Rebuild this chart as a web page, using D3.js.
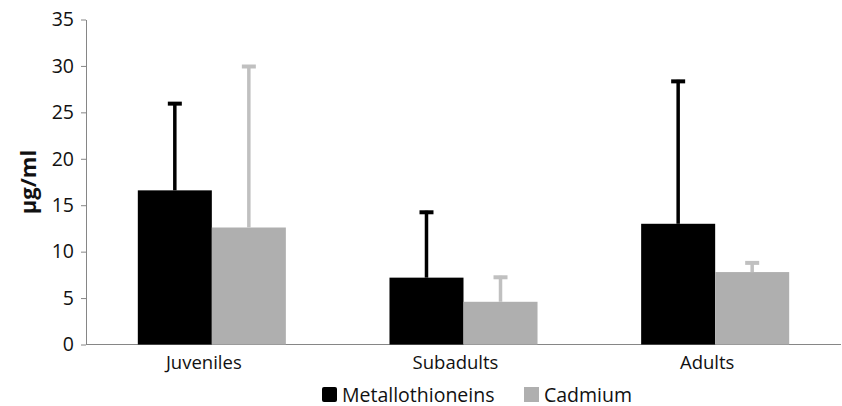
<!DOCTYPE html>
<html>
<head>
<meta charset="utf-8">
<script src="https://cdn.jsdelivr.net/npm/d3@7"></script>
<style>
  body { margin: 0; background: #fff; }
  svg text { font-family: "Open Sans", sans-serif; fill: #111; }
</style>
</head>
<body>
<div id="chart"></div>
<script>
// data
const categories = ["Juveniles", "Subadults", "Adults"]
const series_names = ["Metallothioneins", "Cadmium"]
const mt_values = [16.6, 7.2, 13.0]
const mt_errors = [9.5, 7.2, 15.5]
const cd_values = [12.6, 4.6, 7.8]
const cd_errors = [17.5, 2.8, 1.15]
const y_ticks = [0, 5, 10, 15, 20, 25, 30, 35]

const width = 842, height = 406
const plot_left = 86, plot_right = 841, plot_top = 19.5, plot_bottom = 344.5

const bar_colors = {"Metallothioneins": "#000000", "Cadmium": "#afafaf"}
const err_colors = {"Metallothioneins": "#000000", "Cadmium": "#c0c0c0"}

const rows = []
categories.forEach(function(c, i) {
  rows.push({cat: c, name: "Metallothioneins", value: mt_values[i], err: mt_errors[i]})
  rows.push({cat: c, name: "Cadmium", value: cd_values[i], err: cd_errors[i]})
})

const svg = d3.select("#chart").append("svg")
  .attr("width", width)
  .attr("height", height)

const x0 = d3.scaleBand().domain(categories).range([plot_left, plot_right]).padding(0)
const x1 = d3.scaleBand().domain(series_names).range([0, x0.bandwidth()])
  .paddingInner(0).paddingOuter(0.7)
const y = d3.scaleLinear().domain([0, 35]).range([plot_bottom, plot_top])

// y axis
const y_axis = svg.append("g")
  .attr("transform", "translate(" + plot_left + ",0)")
  .call(d3.axisLeft(y).tickValues(y_ticks).tickSize(5).tickSizeOuter(0).tickPadding(7))
y_axis.select(".domain").attr("stroke", "#868686")
y_axis.selectAll(".tick line").attr("stroke", "#868686")
y_axis.selectAll(".tick text")
  .style("font-size", "19.5px")
  .attr("fill", "#111")

// baseline
svg.append("line")
  .attr("x1", plot_left).attr("x2", plot_right)
  .attr("y1", y(0)).attr("y2", y(0))
  .attr("stroke", "#868686")

// bars
svg.selectAll("rect.bar")
  .data(rows)
  .join("rect")
  .attr("class", "bar")
  .attr("x", d => x0(d.cat) + x1(d.name))
  .attr("width", x1.bandwidth())
  .attr("y", d => y(d.value))
  .attr("height", d => y(0) - y(d.value))
  .attr("fill", d => bar_colors[d.name])

// error bars (upper only)
const err = svg.selectAll("g.err")
  .data(rows)
  .join("g")
  .attr("class", "err")
err.append("line")
  .attr("x1", d => x0(d.cat) + x1(d.name) + x1.bandwidth() / 2)
  .attr("x2", d => x0(d.cat) + x1(d.name) + x1.bandwidth() / 2)
  .attr("y1", d => y(d.value))
  .attr("y2", d => y(d.value + d.err))
  .attr("stroke", d => err_colors[d.name])
  .attr("stroke-width", 3.5)
err.append("line")
  .attr("x1", d => x0(d.cat) + x1(d.name) + x1.bandwidth() / 2 - 7)
  .attr("x2", d => x0(d.cat) + x1(d.name) + x1.bandwidth() / 2 + 7)
  .attr("y1", d => y(d.value + d.err) + 1.5)
  .attr("y2", d => y(d.value + d.err) + 1.5)
  .attr("stroke", d => err_colors[d.name])
  .attr("stroke-width", 4)

// category labels
svg.selectAll("text.cat")
  .data(categories)
  .join("text")
  .attr("class", "cat")
  .attr("x", d => x0(d) + x0.bandwidth() / 2 - 8)
  .attr("y", 369)
  .attr("text-anchor", "middle")
  .style("font-size", "18.5px")
  .text(d => d)

// y label
svg.append("text")
  .attr("transform", "translate(36,182) rotate(-90)")
  .attr("text-anchor", "middle")
  .style("font-size", "22px")
  .style("font-weight", "bold")
  .text("µg/ml")

// legend
const legend_x = [322, 524]
const legend = svg.selectAll("g.legend")
  .data(series_names)
  .join("g")
  .attr("class", "legend")
  .attr("transform", (d, i) => "translate(" + legend_x[i] + ",387)")
legend.append("rect")
  .attr("width", 15).attr("height", 15)
  .attr("rx", d => d == "Metallothioneins" ? 2 : 0)
  .attr("fill", d => bar_colors[d])
legend.append("text")
  .attr("x", 20)
  .attr("y", 14.5)
  .style("font-size", "19.5px")
  .text(d => d)
</script>
</body>
</html>
